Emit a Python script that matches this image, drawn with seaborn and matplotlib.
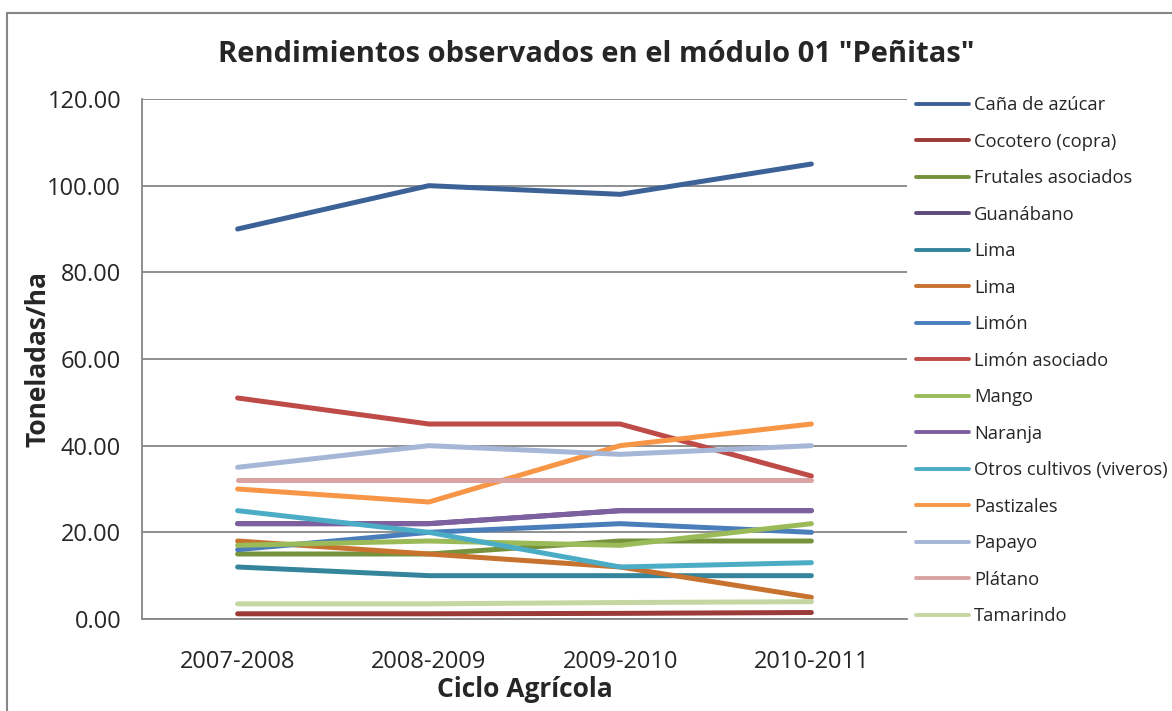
import matplotlib
matplotlib.use('Agg')
import matplotlib.pyplot as plt
import seaborn as sns
import pandas as pd
from matplotlib.patches import Rectangle
from matplotlib.ticker import FixedLocator, FormatStrFormatter

ciclos = ['2007-2008', '2008-2009', '2009-2010', '2010-2011']

cultivos = ['Caña de azúcar', 'Cocotero (copra)', 'Frutales asociados', 'Guanábano',
            'Lima', 'Lima', 'Limón', 'Limón asociado', 'Mango', 'Naranja',
            'Otros cultivos (viveros)', 'Pastizales', 'Papayo', 'Plátano', 'Tamarindo']

cana = [90, 100, 98, 105]
cocotero = [1.2, 1.2, 1.3, 1.5]
frutales = [15, 15, 18, 18]
guanabano = [22, 22, 25, 25]
lima_1 = [12, 10, 10, 10]
lima_2 = [18, 15, 12, 5]
limon = [16, 20, 22, 20]
limon_asociado = [51, 45, 45, 33]
mango = [17, 18, 17, 22]
naranja = [22, 22, 25, 25]
otros = [25, 20, 12, 13]
pastizales = [30, 27, 40, 45]
papayo = [35, 40, 38, 40]
platano = [32, 32, 32, 32]
tamarindo = [3.5, 3.5, 3.8, 4]

valores = [cana, cocotero, frutales, guanabano, lima_1, lima_2, limon, limon_asociado,
           mango, naranja, otros, pastizales, papayo, platano, tamarindo]

colores = ['#3D6298', '#9B3B38', '#76923C', '#5F4A7A', '#34859B', '#C8722F',
           '#4A7EBB', '#BE4B48', '#9BBB59', '#7D60A0', '#4BACC6', '#F79646',
           '#A5B6D6', '#D8A3A2', '#C4D7A3']

sns.set_style('white')
plt.rcParams['font.family'] = ['Open Sans', 'DejaVu Sans']

fig = plt.figure(figsize=(11.72, 7.11), dpi=100)
ax = fig.add_axes([142/1172, 1 - 619/711, (907-142)/1172, (619-99)/711])

for nombre, vals, c in zip(cultivos, valores, colores):
    df = pd.DataFrame({'ciclo': range(len(ciclos)), 'valor': vals})
    sns.lineplot(data=df, x='ciclo', y='valor', color=c, linewidth=3.6,
                 label=nombre, ax=ax, solid_capstyle='round')

ax.set_xlim(-0.5, 3.5)
ax.set_ylim(0, 120)
ax.set_yticks(range(0, 121, 20))
ax.yaxis.set_major_formatter(FormatStrFormatter('%.2f'))
ax.set_xticks(range(len(ciclos)))
ax.set_xticklabels(ciclos)
ax.xaxis.set_minor_locator(FixedLocator([-0.5, 0.5, 1.5, 2.5, 3.5]))
ax.tick_params(axis='x', which='major', length=0, pad=22, labelsize=17)
ax.tick_params(axis='x', which='minor', length=7, width=1.3, color='#868686', direction='out')
ax.tick_params(axis='y', length=7, width=1.3, color='#868686', direction='out', labelsize=17, pad=8)

ax.grid(axis='y', color='#868686', linewidth=1.3)
ax.set_axisbelow(True)
for s in ['top', 'right']:
    ax.spines[s].set_visible(False)
for s in ['left', 'bottom']:
    ax.spines[s].set_color('#868686')
    ax.spines[s].set_linewidth(1.3)

ax.set_xlabel('Ciclo Agrícola', fontsize=19, fontweight='bold', labelpad=2)
ax.set_ylabel('Toneladas/ha', fontsize=19, fontweight='bold', labelpad=-3)

fig.text(596/1172, 1 - 55/711, 'Rendimientos observados en el módulo 01 "Peñitas"',
         ha='center', va='center', fontsize=21, fontweight='bold')

leg = ax.legend(loc='upper left', bbox_to_anchor=(916/1172, 1 - 96/711),
                bbox_transform=fig.transFigure, frameon=False, fontsize=13.2,
                handlelength=2.9, handletextpad=0.25, labelspacing=1.01,
                borderaxespad=0, borderpad=0)
for h in leg.get_lines():
    h.set_linewidth(2.8)

fig.patches.append(Rectangle((7/1172, -0.05), 1.1, 1 - 13/711 + 0.05,
                             transform=fig.transFigure, fill=False,
                             edgecolor='#868686', linewidth=1.5))

fig.savefig('out.png', dpi=100)
